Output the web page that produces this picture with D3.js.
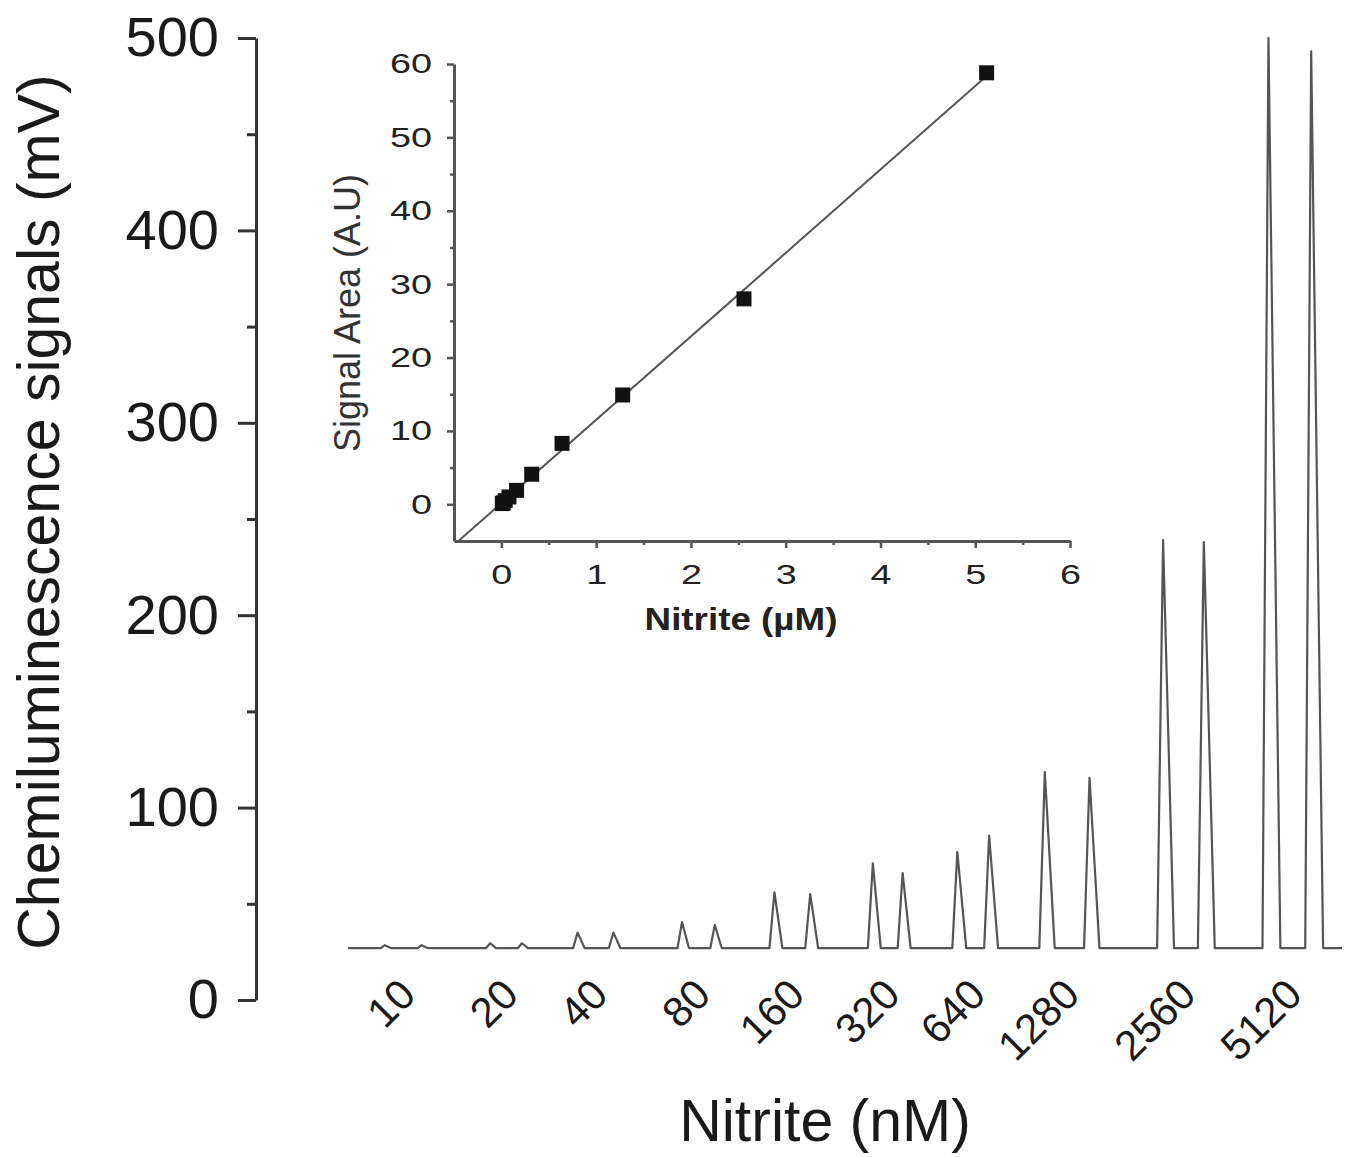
<!DOCTYPE html>
<html>
<head>
<meta charset="utf-8">
<script src="https://cdn.jsdelivr.net/npm/d3@7"></script>
<style>
  body { margin: 0; background: #fff; }
  svg text { font-family: "Liberation Sans", Arial, Helvetica, sans-serif; }
</style>
</head>
<body>
<svg id="chart" width="1355" height="1157"></svg>
<script>
// ---- Flow-injection chemiluminescence trace (two injections per standard) ----
const concentrations = ["10", "20", "40", "80", "160", "320", "640", "1280", "2560", "5120"]; // nM
const injectionTime = [            // min, first and second injection
  [3.7, 7.4], [14.3, 17.5], [23.1, 26.7], [33.6, 36.9], [42.9, 46.5],
  [52.8, 55.8], [61.3, 64.5], [70.1, 74.6], [82.0, 86.1], [92.6, 96.9]
];
const peakSignal = [               // mV at the peak apex
  [28.5, 28.5], [29.5, 29.5], [35, 35], [40.5, 39], [56, 55],
  [71, 66], [77, 85.5], [118.5, 115.5], [239, 238], [500, 493]
];
const peakRise = [0.4, 0.4, 0.45, 0.45, 0.5, 0.5, 0.5, 0.55, 0.6, 0.6];   // min
const peakFall = [0.6, 0.6, 0.7, 0.7, 0.8, 0.8, 0.9, 1.0, 1.1, 1.2];      // min
const baselineSignal = 27;         // mV
const runTime = [0, 100];          // min
const signalTicks = [0, 100, 200, 300, 400, 500];
const signalMinorTicks = [50, 150, 250, 350, 450];

// ---- Calibration inset ----
const standardConc = [0.01, 0.02, 0.04, 0.08, 0.16, 0.32, 0.64, 1.28, 2.56, 5.12]; // µM
const signalArea   = [0.1, 0.2, 0.5, 1.0, 1.9, 4.1, 8.3, 14.9, 28.0, 58.8];         // A.U
const insetXTicks = [0, 1, 2, 3, 4, 5, 6];
const insetXMinor = [0.5, 1.5, 2.5, 3.5, 4.5, 5.5];
const insetYTicks = [0, 10, 20, 30, 40, 50, 60];
const insetYMinor = [5, 15, 25, 35, 45, 55];

const svg = d3.select("#chart");

// ===== main trace =====
const x = d3.scaleLinear().domain(runTime).range([348, 1342]);
const y = d3.scaleLinear().domain([0, 500]).range([1000, 38]);

// build the trace vertices: baseline, then foot / apex / foot for every injection
const trace = [[runTime[0], baselineSignal]];
injectionTime.forEach((pair, i) => {
  pair.forEach((t, j) => {
    trace.push([t - peakRise[i], baselineSignal]);
    trace.push([t, peakSignal[i][j]]);
    trace.push([t + peakFall[i], baselineSignal]);
  });
});
trace.push([runTime[1], baselineSignal]);

svg.append("path")
  .datum(trace)
  .attr("fill", "none")
  .attr("stroke", "#555")
  .attr("stroke-width", 2.2)
  .attr("stroke-linejoin", "round")
  .attr("d", d3.line().x(d => x(d[0])).y(d => y(d[1])));

// y axis (major + minor)
const yAxisG = svg.append("g").attr("transform", "translate(256,0)");
yAxisG.call(d3.axisLeft(y).tickValues(signalTicks).tickSize(18).tickPadding(19).tickSizeOuter(0));
yAxisG.append("g").call(d3.axisLeft(y).tickValues(signalMinorTicks).tickSize(9).tickFormat("")).select(".domain").remove();
yAxisG.selectAll(".domain").attr("stroke", "#333").attr("stroke-width", 3);
yAxisG.selectAll(".tick line").attr("stroke", "#333").attr("stroke-width", 3);
yAxisG.selectAll(".tick text").attr("font-size", 56).attr("fill", "#1a1a1a");

// concentration labels under each pair of injections
const pairMid = injectionTime.map(p => (p[0] + p[1]) / 2);
const xAxisG = svg.append("g").attr("transform", `translate(0,${y(baselineSignal)})`);
xAxisG.call(d3.axisBottom(x).tickValues(pairMid).tickFormat((d, i) => concentrations[i]).tickSize(0));
xAxisG.select(".domain").remove();
xAxisG.selectAll(".tick text")
  .attr("font-size", 42)
  .attr("fill", "#1a1a1a")
  .attr("text-anchor", "end")
  .attr("x", 0).attr("y", 0).attr("dy", 0)
  .attr("transform", "translate(14,49) rotate(-45)");

svg.append("text")
  .attr("transform", "translate(59,512) rotate(-90)")
  .attr("text-anchor", "middle")
  .attr("font-size", 59)
  .attr("fill", "#1a1a1a")
  .text("Chemiluminescence signals (mV)");

svg.append("text")
  .attr("x", 825).attr("y", 1141)
  .attr("text-anchor", "middle")
  .attr("font-size", 59)
  .attr("fill", "#1a1a1a")
  .text("Nitrite (nM)");

// ===== calibration inset =====
const ix = d3.scaleLinear().domain([-0.5, 6]).range([454, 1070]);
const iy = d3.scaleLinear().domain([-5, 60]).range([541, 64]);
const inset = svg.append("g");

// least-squares calibration line
const mx = d3.mean(standardConc), my = d3.mean(signalArea);
const slope = d3.sum(standardConc, (c, i) => (c - mx) * (signalArea[i] - my)) /
              d3.sum(standardConc, c => (c - mx) * (c - mx));
const intercept = my - slope * mx;
const xStart = Math.max(-0.5, (-5 - intercept) / slope);
const xEnd = d3.max(standardConc);
inset.append("line")
  .attr("x1", ix(xStart)).attr("y1", iy(intercept + slope * xStart))
  .attr("x2", ix(xEnd)).attr("y2", iy(intercept + slope * xEnd))
  .attr("stroke", "#555").attr("stroke-width", 2);

const sq = 15;
inset.selectAll("rect.pt")
  .data(standardConc)
  .join("rect")
  .attr("class", "pt")
  .attr("x", (d) => ix(d) - sq / 2)
  .attr("y", (d, i) => iy(signalArea[i]) - sq / 2)
  .attr("width", sq).attr("height", sq)
  .attr("fill", "#111");

// inset axes
const ixG = inset.append("g").attr("transform", `translate(0,${iy(-5)})`);
ixG.call(d3.axisBottom(ix).tickValues(insetXTicks).tickFormat(d3.format("d")).tickSize(7).tickSizeOuter(0));
ixG.append("g").call(d3.axisBottom(ix).tickValues(insetXMinor).tickSize(4).tickFormat("")).select(".domain").remove();
ixG.selectAll("text")
  .attr("font-size", 28).attr("fill", "#222")
  .attr("y", 43).attr("dy", 0)
  .attr("transform", "scale(1.35,1)");

const iyG = inset.append("g").attr("transform", `translate(${ix(-0.5)},0)`);
iyG.call(d3.axisLeft(iy).tickValues(insetYTicks).tickFormat(d3.format("d")).tickSize(7).tickSizeOuter(0));
iyG.append("g").call(d3.axisLeft(iy).tickValues(insetYMinor).tickSize(4).tickFormat("")).select(".domain").remove();
iyG.selectAll("text")
  .attr("font-size", 28).attr("fill", "#222")
  .attr("x", -22 / 1.35)
  .attr("transform", "scale(1.35,1)");

inset.selectAll(".domain").attr("stroke", "#555").attr("stroke-width", 3);
inset.selectAll(".tick line").attr("stroke", "#555").attr("stroke-width", 2.5);

inset.append("text")
  .attr("transform", "translate(741,630) scale(1.15,1)")
  .attr("text-anchor", "middle")
  .attr("font-size", 32)
  .attr("font-weight", "bold")
  .attr("fill", "#222")
  .text("Nitrite (\u00B5M)");

inset.append("text")
  .attr("transform", "translate(360,313) rotate(-90)")
  .attr("text-anchor", "middle")
  .attr("font-size", 36)
  .attr("fill", "#333")
  .text("Signal Area (A.U)");
</script>
</body>
</html>
